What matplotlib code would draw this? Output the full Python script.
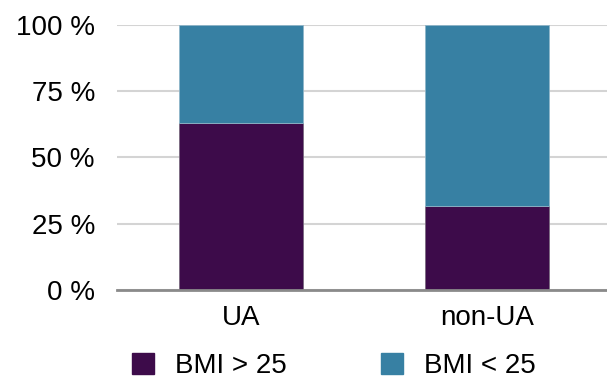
import matplotlib.pyplot as plt
import numpy as np

# Share of each group by BMI class, in percent
groups = ["UA", "non-UA"]
bmi_over_25 = [63, 31.5]
bmi_under_25 = [37, 68.5]
series_labels = ["BMI > 25", "BMI < 25"]
yticks = [0, 25, 50, 75, 100]

purple = "#3d0b4a"
blue = "#3780a3"

plt.rcParams['font.family'] = ['Liberation Sans', 'DejaVu Sans']

fig = plt.figure(figsize=(6.07, 3.83), dpi=100)
ax = fig.add_axes([0.193, 0.243, 0.807, 0.692])

x = np.arange(len(groups))
w = 0.504
ax.bar(x, bmi_over_25, w, color=purple, edgecolor="#7a6a80", linewidth=0.6, zorder=3)
ax.bar(x, bmi_under_25, w, bottom=bmi_over_25, color=blue, edgecolor="#8fb6c9",
       linewidth=0.6, zorder=3)

ax.set_xlim(-0.504, 1.488)
ax.set_ylim(0, 100)
ax.set_yticks(yticks)
ax.set_yticklabels([f"{t} %" for t in yticks], fontsize=20)
ax.set_xticks(x)
ax.set_xticklabels(groups, fontsize=20)
ax.tick_params(length=0)
ax.tick_params(axis='y', pad=16)
ax.tick_params(axis='x', pad=11)
ax.yaxis.grid(True, color="#d4d4d4", linewidth=1.5, zorder=0)
for s in ["top", "right", "left"]:
    ax.spines[s].set_visible(False)
ax.spines["bottom"].set_color("#8a8a8a")
ax.spines["bottom"].set_linewidth(2)
ax.spines["bottom"].set_zorder(4)

# Legend drawn below the category labels
handles = [plt.Rectangle((0, 0), 1, 1, color=purple),
           plt.Rectangle((0, 0), 1, 1, color=blue)]
fig.legend(handles, series_labels, loc="center left", bbox_to_anchor=(0.217, 0.045),
           ncol=2, frameon=False, fontsize=20, handlelength=0.8, handleheight=0.8,
           handletextpad=0.75, columnspacing=3.4, borderpad=0, borderaxespad=0)

fig.savefig("out.png", dpi=100)
